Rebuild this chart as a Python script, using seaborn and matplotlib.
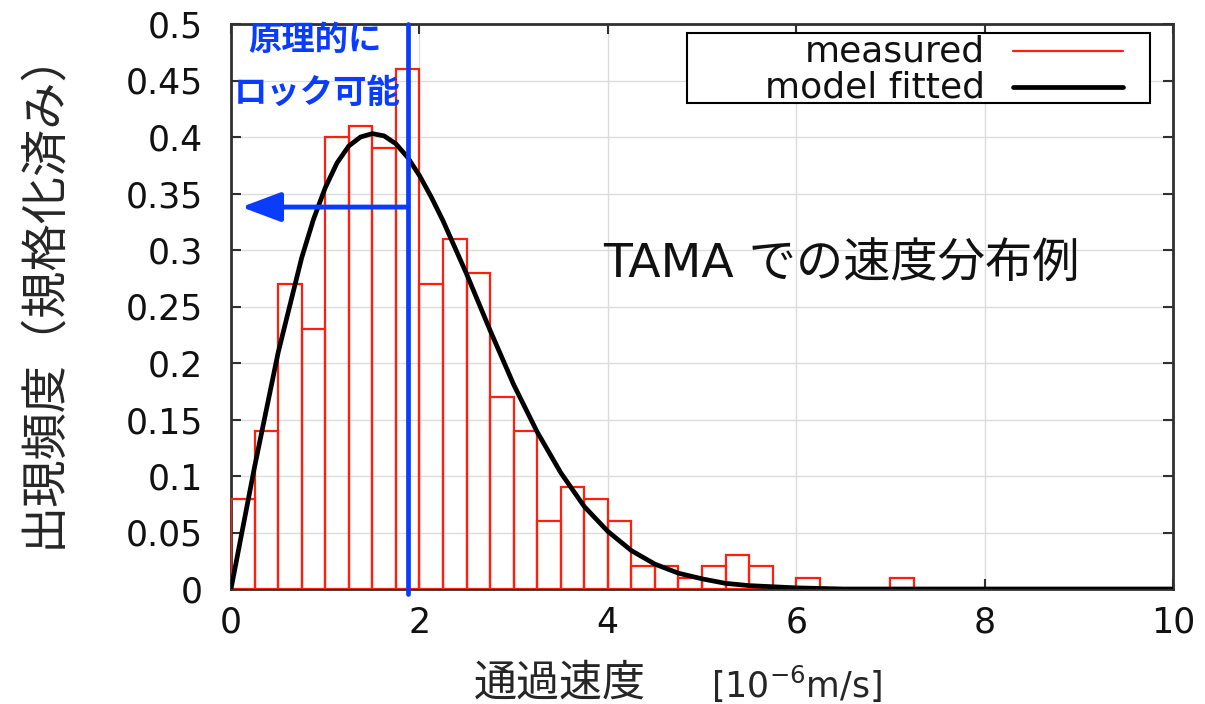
import numpy as np
import pandas as pd
import matplotlib
matplotlib.use("Agg")
import matplotlib.pyplot as plt
from matplotlib.patches import Rectangle
import seaborn as sns

# Histogram of measured passing speeds (normalised), 0.25-wide bins from 0 to 7.25
bin_width = 0.25
bin_lefts = np.arange(29) * bin_width
measured_density = [0.08, 0.14, 0.27, 0.23, 0.40, 0.41, 0.39, 0.46,
                    0.27, 0.31, 0.28, 0.17, 0.14, 0.06, 0.09, 0.08,
                    0.06, 0.02, 0.02, 0.01, 0.02, 0.03, 0.02, 0.00,
                    0.01, 0.00, 0.00, 0.00, 0.01]

# Fitted model curve
curve_speed = [0.0, 0.25, 0.5, 0.75, 0.875, 1.0, 1.125, 1.25, 1.375, 1.5,
               1.625, 1.75, 1.875, 2.0, 2.125, 2.25, 2.5, 2.75, 3.0, 3.25,
               3.5, 3.75, 4.0, 4.25, 4.5, 4.75, 5.0, 5.25, 5.5, 5.75, 6.0,
               6.5, 7.0, 10.0]
curve_density = [0.0, 0.108, 0.209, 0.293, 0.327, 0.355, 0.377, 0.392, 0.400, 0.403,
                 0.401, 0.394, 0.382, 0.366, 0.347, 0.326, 0.279, 0.229, 0.181, 0.139,
                 0.103, 0.073, 0.051, 0.034, 0.022, 0.014, 0.009, 0.005, 0.003, 0.002, 0.001,
                 0.0, 0.0, 0.0]

x_ticks = [0, 2, 4, 6, 8, 10]
y_ticks = [0, 0.05, 0.1, 0.15, 0.2, 0.25, 0.3, 0.35, 0.4, 0.45, 0.5]
y_tick_labels = ["0", "0.05", "0.1", "0.15", "0.2", "0.25", "0.3", "0.35", "0.4", "0.45", "0.5"]

legend_labels = ["measured", "model fitted"]

lock_limit = 1.88      # speed below which locking is possible
arrow_tip = 0.11
arrow_level = 0.338

RED = "#ff1f0f"
BLUE = "#0a3cff"

sns.set_theme(style="ticks")
plt.rcParams["font.family"] = ["DejaVu Sans", "Noto Sans CJK JP"]

FIG_W, FIG_H = 1205, 704
AX_L, AX_R, AX_T, AX_B = 231, 1173, 24, 589

fig = plt.figure(figsize=(FIG_W / 100, FIG_H / 100), dpi=100)
ax = fig.add_axes([AX_L / FIG_W, 1 - AX_B / FIG_H,
                   (AX_R - AX_L) / FIG_W, (AX_B - AX_T) / FIG_H])


def ax_xy(px, py):
    """Pixel position in the figure -> axes fraction."""
    return (px - AX_L) / (AX_R - AX_L), (AX_B - py) / (AX_B - AX_T)


hist_df = pd.DataFrame({"speed": bin_lefts + bin_width / 2,
                        "density": measured_density})
edges = [float(v) for v in np.append(bin_lefts, bin_lefts[-1] + bin_width)]
sns.histplot(data=hist_df, x="speed", weights="density", bins=edges,
             fill=False, color=RED, linewidth=1.6, ax=ax, zorder=3)
sns.lineplot(x=curve_speed, y=curve_density, color="black", linewidth=3.4,
             ax=ax, zorder=4)

ax.set_xlim(0, 10)
ax.set_ylim(0, 0.5)
ax.set_xticks(x_ticks)
ax.set_yticks(y_ticks)
ax.set_yticklabels(y_tick_labels)
ax.grid(True, color="#dcdcdc", linewidth=1.0)
ax.set_axisbelow(True)
for s in ax.spines.values():
    s.set_visible(True)
    s.set_color("#303030")
    s.set_linewidth(2)
ax.tick_params(axis="both", direction="in", length=7, width=1.5, color="#303030",
               top=True, right=True, labelsize=25, labelcolor="#111111")
ax.tick_params(axis="y", pad=20)
ax.tick_params(axis="x", pad=12)

# Axis labels
ax.set_ylabel("出現頻度（規格化済み）", fontsize=34, va="center")
ax.yaxis.set_label_coords(*ax_xy(44, 288))
ax.set_xlabel("通過速度", fontsize=31, va="center")
ax.xaxis.set_label_coords(*ax_xy(560, 684))
ax.text(*ax_xy(797, 684), r"[10$^{-6}$m/s]",
        transform=ax.transAxes, fontsize=25, ha="center", va="center")

# Lock limit marker
ax.axvline(lock_limit, ymin=-0.008, ymax=1.0, color=BLUE, linewidth=3.4,
           solid_capstyle="round", clip_on=False, zorder=5)
ax.annotate("", xy=(arrow_tip, arrow_level), xytext=(lock_limit, arrow_level),
            arrowprops=dict(arrowstyle="-|>,head_length=0.8,head_width=0.3",
                            mutation_scale=30, lw=3.5, color=BLUE,
                            shrinkA=0, shrinkB=0), zorder=5)
ax.text(0.89, 0.485, "原理的に", color=BLUE, fontsize=24, fontweight="bold",
        family=["Noto Sans CJK JP"], ha="center", va="center", zorder=6)
ax.text(0.92, 0.439, "ロック可能", color=BLUE, fontsize=24, fontweight="bold",
        family=["Noto Sans CJK JP"], ha="center", va="center", zorder=6)

ax.text(3.95, 0.287, "TAMA での速度分布例", fontsize=34, ha="left", va="center",
        color="#111111")

# Key box: right-aligned labels with line samples to their right
x0, y0 = ax_xy(687, 103)
x1, y1 = ax_xy(1150, 33)
ax.add_patch(Rectangle((x0, y0), x1 - x0, y1 - y0, transform=ax.transAxes,
                       facecolor="white", edgecolor="black", linewidth=1.5,
                       zorder=7))
for label, color, lw, py in [(legend_labels[0], RED, 1.6, 51),
                             (legend_labels[1], "black", 3.4, 87)]:
    tx, ty = ax_xy(985, py)
    ax.text(tx, ty, label, transform=ax.transAxes, fontsize=26, ha="right",
            va="center", color="#111111", zorder=8)
    lx0, ly = ax_xy(1013, py)
    lx1, _ = ax_xy(1123, py)
    ax.plot([lx0, lx1], [ly, ly], transform=ax.transAxes, color=color,
            linewidth=lw, zorder=8)

fig.savefig("out.png", dpi=100)
